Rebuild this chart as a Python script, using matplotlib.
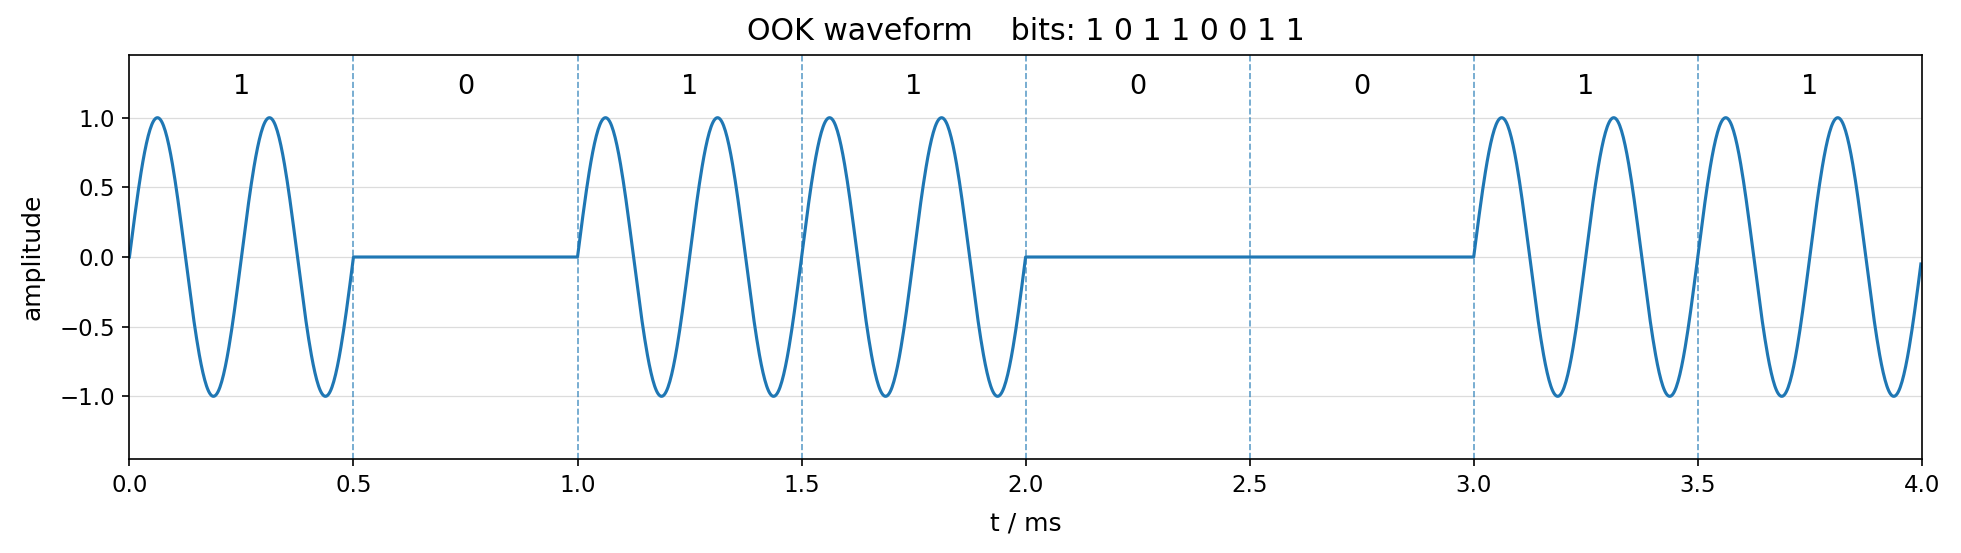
import numpy as np
import matplotlib
matplotlib.use('Agg')
import matplotlib.pyplot as plt

# bit sequence and signal parameters
bits = [1, 0, 1, 1, 0, 0, 1, 1]
bit_time_ms = 0.5
carrier_khz = 4.0
samples_per_bit = 250

# build OOK waveform
n = len(bits)
t = np.arange(n * samples_per_bit) * bit_time_ms / samples_per_bit
gate = np.repeat(bits, samples_per_bit)
y = gate * np.sin(2 * np.pi * carrier_khz * t)

plt.rcParams['font.size'] = 11
fig, ax = plt.subplots(figsize=(1961 / 150, 553 / 150), dpi=150)
fig.subplots_adjust(left=0.066, right=0.980, bottom=0.170, top=0.9005)

ax.plot(t, y, color='C0', lw=1.5)

# bit boundaries and labels
for i in range(1, n):
    ax.axvline(i * bit_time_ms, color='C0', ls='--', lw=0.8, alpha=0.7)
for i, b in enumerate(bits):
    ax.text((i + 0.5) * bit_time_ms, 1.22, str(b), ha='center', va='center', fontsize=13)

ax.set_xlim(0, n * bit_time_ms)
ax.set_ylim(-1.45, 1.45)
ax.set_yticks([-1.0, -0.5, 0.0, 0.5, 1.0])
ax.grid(axis='y', color='#dcdcdc', lw=0.6)
ax.set_axisbelow(True)
ax.set_xlabel('t / ms', fontsize=12, labelpad=7)
ax.set_ylabel('amplitude', fontsize=12, labelpad=7)
ax.set_title('OOK waveform    bits: ' + ' '.join(str(b) for b in bits), fontsize=14.4, pad=7)

plt.savefig('out.png', dpi=150)
